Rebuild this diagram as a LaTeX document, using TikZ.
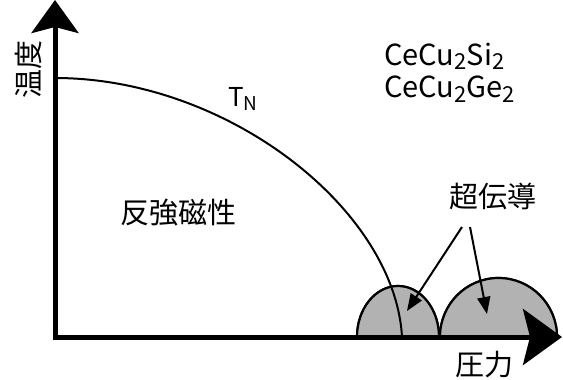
\documentclass[tikz,border=0pt]{standalone}
\usepackage{fontspec}
\setmainfont{Noto Sans CJK JP}
\usetikzlibrary{arrows.meta}
\definecolor{domegray}{RGB}{178,178,178}
\newcommand\lsub[2]{\raisebox{-0.28ex}{\fontsize{#1}{#1}\selectfont #2}}
\tikzset{
  axis/.style={line width=5pt},
  dome/.style={fill=domegray,draw=black,line width=2.2pt},
  pointer/.style={line width=2pt,-{Triangle[length=17pt,width=13pt]}},
  lbl/.style={inner sep=0pt,font=\fontsize{29}{32}\selectfont},
}
\begin{document}
\begin{tikzpicture}[x=1pt,y=-1pt]
\useasboundingbox (0,0) rectangle (563,380);
% domes
\fill[dome] (357,337) arc[start angle=180,end angle=360,x radius=41,y radius=51] -- cycle;
\fill[dome] (440,337) arc[start angle=180,end angle=360,x radius=58.5,y radius=59] -- cycle;
\draw[dome] (357,337) arc[start angle=180,end angle=360,x radius=41,y radius=51];
\draw[dome] (440,337) arc[start angle=180,end angle=360,x radius=58.5,y radius=59];
% T_N curve
\coordinate (c0) at (55,78);
\coordinate (c1) at (402,337);
\draw[line width=2pt] (c0) .. controls (228,78) and (395,210) .. (c1);
% axes
\coordinate (o) at (55,339.5);
\coordinate (ytop) at (55,0);
\coordinate (ox) at (52.5,337);
\coordinate (xend) at (562,337);
\draw[axis,-{Stealth[length=33pt,width=47pt,inset=6pt]}] (o) -- (ytop);
\draw[axis,-{Stealth[length=39pt,width=56pt,inset=7pt]}] (ox) -- (xend);
% labels
\node[lbl,rotate=90] (temp) at (29,69) {温度};
\node[lbl] (pres) at (484,365) {圧力};
\node[lbl] (afm) at (178,213) {反強磁性};
\node[lbl] (sc) at (493,196) {超伝導};
\node[lbl,anchor=west] (si) at (384,56) {CeCu\lsub{22}{2}Si\lsub{22}{2}};
\node[lbl,anchor=west] (ge) at (384,89) {CeCu\lsub{22}{2}Ge\lsub{22}{2}};
\node[inner sep=0pt,font=\fontsize{26}{28}\selectfont] (tn) at (243,99) {T\lsub{19}{N}};
% pointers
\coordinate (s1) at (462,227);
\coordinate (s2) at (470,227);
\coordinate (t1) at (407,311);
\coordinate (t2) at (487,314);
\draw[pointer] (s1) -- (t1);
\draw[pointer] (s2) -- (t2);
\end{tikzpicture}
\end{document}
